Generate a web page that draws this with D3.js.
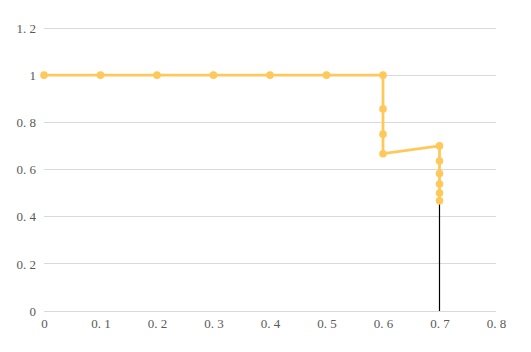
<!DOCTYPE html>
<html lang="en">
<head>
    <meta charset="UTF-8">
    <title>Chart</title>
    <script src="https://d3js.org/d3.v7.min.js"></script>
    <style>
        body { margin: 0; background: #fff; }
    </style>
</head>
<body>
    <svg width="531" height="352"></svg>
    <script>
        // series
        const xValues = [0, 0.1, 0.2, 0.3, 0.4, 0.5, 0.6, 0.6, 0.6, 0.6, 0.7, 0.7, 0.7, 0.7, 0.7, 0.7];
        const yValues = [1, 1, 1, 1, 1, 1, 1, 0.857, 0.75, 0.667, 0.7, 0.636, 0.583, 0.538, 0.5, 0.467];
        const dropX = [0.7, 0.7];
        const dropY = [0.467, 0];
        const xTicks = [0, 0.1, 0.2, 0.3, 0.4, 0.5, 0.6, 0.7, 0.8];
        const yTicks = [0, 0.2, 0.4, 0.6, 0.8, 1, 1.2];

        const svg = d3.select("svg");
        const x = d3.scaleLinear().domain([0, 0.8]).range([44, 496]);
        const y = d3.scaleLinear().domain([0, 1.2]).range([311, 28]);
        const fmt = d => String(+d.toFixed(1)).replace(".", ". ");

        // gridlines
        svg.append("g").selectAll("line")
            .data(yTicks)
            .enter().append("line")
            .attr("x1", x(0)).attr("x2", x(0.8))
            .attr("y1", d => y(d)).attr("y2", d => y(d))
            .attr("stroke", "#d9d9d9").attr("stroke-width", 1)
            .attr("shape-rendering", "crispEdges");

        const yAxis = svg.append("g")
            .attr("transform", "translate(" + (x(0) - 8) + ",0)")
            .call(d3.axisLeft(y).tickValues(yTicks).tickSize(0).tickPadding(0).tickFormat(fmt));
        yAxis.select(".domain").remove();

        const xAxis = svg.append("g")
            .attr("transform", "translate(0," + (y(0) + 6) + ")")
            .call(d3.axisBottom(x).tickValues(xTicks).tickSize(0).tickPadding(2).tickFormat(fmt));
        xAxis.select(".domain").remove();

        svg.selectAll(".tick text")
            .attr("font-family", "'Liberation Serif', 'DejaVu Serif', serif")
            .attr("font-size", 13)
            .attr("fill", "#595959")
            .style("white-space", "pre");

        const pts = xValues.map((v, i) => [v, yValues[i]]);
        const line = d3.line().x(d => x(d[0])).y(d => y(d[1]));

        svg.append("path")
            .datum(dropX.map((v, i) => [v, dropY[i]]))
            .attr("d", line)
            .attr("fill", "none")
            .attr("stroke", "#000")
            .attr("stroke-width", 1.2);

        svg.append("path")
            .datum(pts)
            .attr("d", line)
            .attr("fill", "none")
            .attr("stroke", "#ffc85a")
            .attr("stroke-width", 2.8)
            .attr("stroke-linejoin", "round");

        svg.append("g").selectAll("circle")
            .data(pts)
            .enter().append("circle")
            .attr("cx", d => x(d[0]))
            .attr("cy", d => y(d[1]))
            .attr("r", 3.8)
            .attr("fill", "#ffc85a");
    </script>
</body>
</html>
